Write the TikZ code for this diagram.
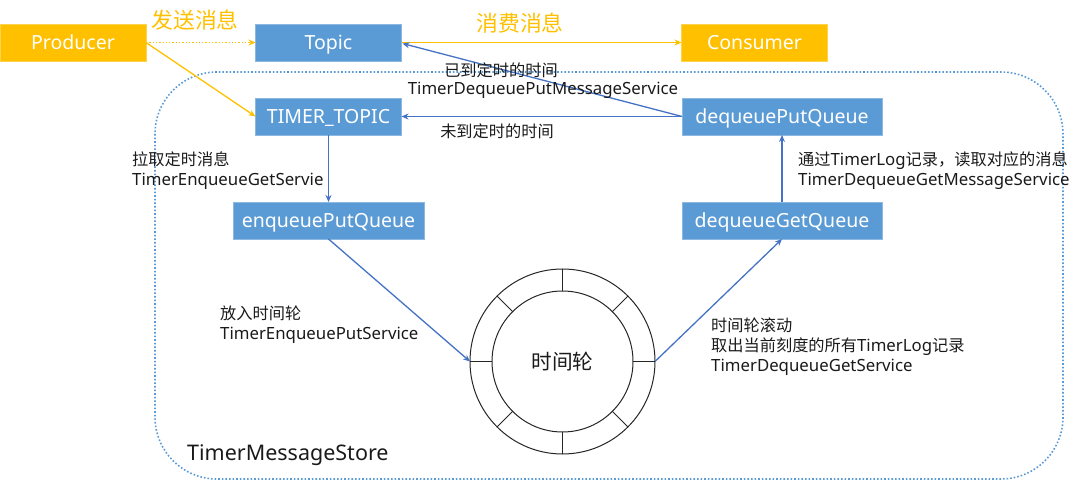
\documentclass[tikz,border=0pt]{standalone}
\usepackage{fontspec}
\setmainfont{Noto Sans}
\newfontfamily\cjk[Scale=0.965]{Noto Sans CJK SC}
\usetikzlibrary{arrows.meta,calc}
\definecolor{ylw}{HTML}{FFC000}
\definecolor{bfill}{HTML}{5B9BD5}
\definecolor{bline}{HTML}{4472C4}
\definecolor{dotc}{HTML}{5B9BD5}
\definecolor{txt}{HTML}{1A1A1A}
\begin{document}
\begin{tikzpicture}[x=1pt,y=-1pt,
  ybox/.style={fill=ylw,draw=ylw!70!white,line width=0.6pt,minimum width=146pt,minimum height=37pt,inner sep=0pt,outer sep=0pt,text=white,font=\fontsize{19.5}{22}\selectfont,text height=13.8pt,text depth=0pt},
  bbox/.style={fill=bfill,draw=bfill!70!white,line width=0.6pt,minimum height=37pt,inner sep=0pt,outer sep=0pt,text=white,font=\fontsize{19.5}{22}\selectfont,text height=13.8pt,text depth=0pt},
  yarr/.style={draw=ylw,line width=1.3pt,-{Stealth[length=7pt,width=6pt]}},
  barr/.style={draw=bline,line width=1.3pt,-{Stealth[length=7pt,width=6pt]}},
  lbl/.style={text=txt,font=\fontsize{16.8}{20}\selectfont,inner sep=0pt,align=left},
  ylbl/.style={text=ylw,font=\fontsize{22.6}{26}\selectfont\cjk,inner sep=0pt},
  ring/.style={circle,draw=black!85,line width=1pt,inner sep=0pt,outer sep=0pt}
]
\useasboundingbox (0,0) rectangle (1080,481);
% container
\draw[dotc,dotted,line width=1.6pt,rounded corners=62pt] (155,72) rectangle (1063,479);
\node[text=txt,font=\fontsize{21.5}{24}\selectfont,anchor=west,inner sep=0pt] (store) at (187,455) {TimerMessageStore};
% boxes
\node[ybox] (prod) at (73,42.5) {Producer};
\node[bbox,minimum width=146pt] (topic) at (328.5,42.5) {Topic};
\node[ybox] (cons) at (754.5,42.5) {Consumer};
\node[bbox,minimum width=146pt] (ttopic) at (328.5,116.5) {TIMER\_TOPIC};
\node[bbox,minimum width=200pt] (dput) at (782,116.5) {dequeuePutQueue};
\node[bbox,minimum width=191pt] (eput) at (328.5,220.5) {enqueuePutQueue};
\node[bbox,minimum width=200pt] (dget) at (782,220.5) {dequeueGetQueue};
% wheel
\node[ring,minimum size=185pt] (wheel) at (562.5,361.5) {};
\node[ring,minimum size=141pt,font=\fontsize{21.4}{24}\selectfont\cjk,text=txt] (inner) at (562.5,361.5) {时间轮};
\foreach \a in {0,45,...,315}{
  \draw[black!85,line width=1pt] (inner.\a) -- (wheel.\a);
}
% yellow arrows
\draw[yarr,dotted] (prod.east) -- (topic.west);
\draw[yarr] (prod.east) -- (ttopic.west);
\draw[yarr] (topic.east) -- (cons.west);
\node[ylbl] (send) at (195,20) {发送消息};
\node[ylbl] (consume) at (520,23) {消费消息};
% blue arrows
\draw[barr] (dput.west) -- ($(topic.east)+(1,1)$);
\draw[barr] (dput.west) -- (ttopic.east);
\draw[barr] (ttopic.south) -- (eput.north);
\draw[barr] (eput.south) -- (wheel.west);
\draw[barr] (wheel.east) -- (dget.south);
\draw[barr] (dget.north) -- (dput.south);
% labels
\node[lbl] (l1a) at (501,70) {\cjk 已到定时的时间};
\node[lbl] (l1b) at (543,90) {TimerDequeuePutMessageService};
\node[lbl] (l2) at (497,131) {\cjk 未到定时的时间};
\node[lbl,anchor=west] (l3) at (132,171) {{\cjk 拉取定时消息}\\TimerEnqueueGetServie};
\node[lbl,anchor=west] (l4) at (220,325) {{\cjk 放入时间轮}\\TimerEnqueuePutService};
\node[lbl,anchor=west] (l5) at (711,347) {{\cjk 时间轮滚动}\\{\cjk 取出当前刻度的所有}TimerLog{\cjk 记录}\\TimerDequeueGetService};
\node[lbl,anchor=west] (l6) at (798,171) {{\cjk 通过}TimerLog{\cjk 记录，读取对应的消息}\\TimerDequeueGetMessageService};
\end{tikzpicture}
\end{document}
